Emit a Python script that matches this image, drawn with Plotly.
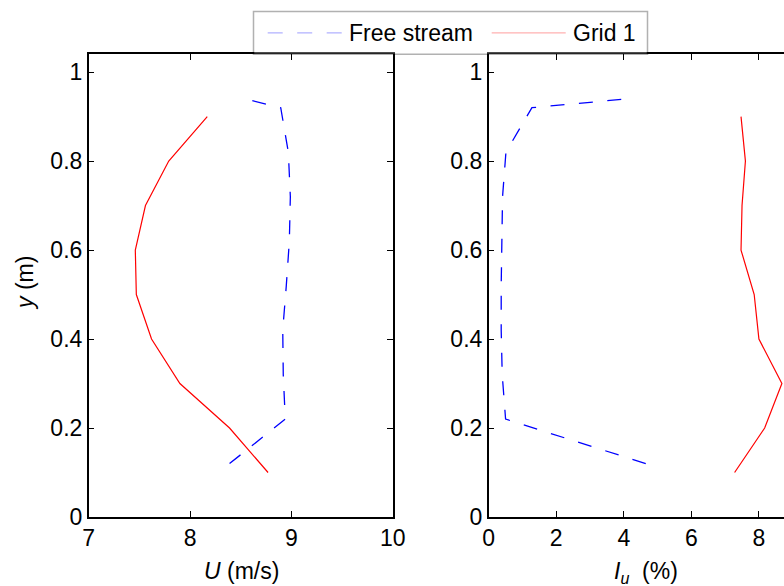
import plotly.graph_objects as go

# Profiles across the channel height
y_grid = [0.1, 0.2, 0.3, 0.4, 0.5, 0.6, 0.7, 0.8, 0.9]
u_grid = [8.77, 8.39, 7.90, 7.62, 7.47, 7.46, 7.56, 7.79, 8.17]
iu_grid = [7.28, 8.17, 8.68, 8.00, 7.86, 7.47, 7.50, 7.60, 7.47]

y_free = [0.12, 0.22, 0.32, 0.42, 0.52, 0.62, 0.72, 0.82, 0.92, 0.94]
u_free = [8.39, 8.94, 8.92, 8.915, 8.95, 8.98, 8.99, 8.97, 8.895, 8.54]
iu_free = [4.65, 0.50, 0.40, 0.37, 0.37, 0.39, 0.41, 0.51, 1.28, 4.13]

u_ticks = [7, 8, 9, 10]
iu_ticks = [0, 2, 4, 6, 8]
y_ticks = [0, 0.2, 0.4, 0.6, 0.8, 1]

series_names = ["Free stream", "Grid 1"]
BLUE = "rgb(0,0,255)"
RED = "rgb(255,0,0)"
DASH = "14px,14.5px"

W, H = 784, 586
FONT = "Liberation Sans, Arial, Helvetica, sans-serif"
FS = 23

# panel geometry in pixels
ax_bottom, ax_top = 517.0, 54.3
left_x0, left_x1 = 88.7, 392.7
right_x0 = 488.7
panel_w = left_x1 - left_x0
right_full_max = 9.0
right_visible_max = right_full_max * (W - right_x0) / panel_w


def px(x):
    return x / W


def py(y):
    return 1 - y / H


fig = go.Figure()
fig.add_trace(go.Scatter(x=u_free, y=y_free, mode="lines", name=series_names[0],
                         line=dict(color=BLUE, width=1.3, dash=DASH),
                         xaxis="x", yaxis="y"))
fig.add_trace(go.Scatter(x=u_grid, y=y_grid, mode="lines", name=series_names[1],
                         line=dict(color=RED, width=1.2),
                         xaxis="x", yaxis="y"))
fig.add_trace(go.Scatter(x=iu_free, y=y_free, mode="lines", name=series_names[0],
                         line=dict(color=BLUE, width=1.3, dash=DASH),
                         xaxis="x2", yaxis="y2"))
fig.add_trace(go.Scatter(x=iu_grid, y=y_grid, mode="lines", name=series_names[1],
                         line=dict(color=RED, width=1.2),
                         xaxis="x2", yaxis="y2"))

axis_common = dict(showline=True, linecolor="black", linewidth=1.5,
                   ticks="inside", ticklen=6, tickwidth=1, tickcolor="black",
                   showgrid=False, zeroline=False, automargin=False,
                   tickfont=dict(family=FONT, size=FS, color="black"))

ydom = [py(ax_bottom), py(ax_top)]

fig.update_layout(
    template="simple_white",
    width=W, height=H,
    margin=dict(l=0, r=0, t=0, b=0, autoexpand=False),
    paper_bgcolor="white", plot_bgcolor="white",
    showlegend=False,
    xaxis=dict(domain=[px(left_x0), px(left_x1)], range=[7, 10],
               tickvals=u_ticks, mirror="ticks", anchor="y", **axis_common),
    yaxis=dict(domain=ydom, range=[0, 1.04], tickvals=y_ticks,
               ticktext=[f"{v:g}" for v in y_ticks],
               mirror="ticks", anchor="x", **axis_common),
    xaxis2=dict(domain=[px(right_x0), 1.0], range=[0, right_visible_max],
                tickvals=iu_ticks, mirror="ticks", anchor="y2", **axis_common),
    yaxis2=dict(domain=ydom, range=[0, 1.04], tickvals=y_ticks,
                ticktext=[f"{v:g}" for v in y_ticks],
                mirror=False, anchor="x2", **axis_common),
)

txt = dict(family=FONT, size=FS, color="black")
annotations = [
    dict(text="<i>y</i> (m)", x=px(25), y=py(283), textangle=-90,
         xanchor="center", yanchor="middle"),
    dict(text="<i>U</i> (m/s)", x=px(241), y=py(571),
         xanchor="center", yanchor="middle"),
    dict(text="<i>I</i><sub><i>u</i></sub>  (%)", x=px(646), y=py(572),
         xanchor="center", yanchor="middle"),
]

# legend box
leg_x0, leg_x1, leg_y0, leg_y1 = 253.5, 647.5, 11.5, 54.3
leg_mid = (leg_y0 + leg_y1) / 2
shapes = [
    dict(type="rect", xref="paper", yref="paper",
         x0=px(leg_x0), x1=px(leg_x1), y0=py(leg_y1), y1=py(leg_y0),
         line=dict(color="black", width=1.5), fillcolor="white", layer="above"),
    dict(type="line", xref="paper", yref="paper",
         x0=px(267.7), x1=px(341.7), y0=py(leg_mid), y1=py(leg_mid),
         line=dict(color=BLUE, width=1.3, dash="15px,14.5px"), layer="above"),
    dict(type="line", xref="paper", yref="paper",
         x0=px(491.7), x1=px(565.7), y0=py(leg_mid), y1=py(leg_mid),
         line=dict(color=RED, width=1.2), layer="above"),
]
annotations += [
    dict(text=series_names[0], x=px(347), y=py(leg_mid), xanchor="left", yanchor="middle"),
    dict(text=series_names[1], x=px(571), y=py(leg_mid), xanchor="left", yanchor="middle"),
]
for a in annotations:
    a.update(xref="paper", yref="paper", showarrow=False, font=txt)

fig.update_layout(annotations=annotations, shapes=shapes)
fig.write_html("out.html")
